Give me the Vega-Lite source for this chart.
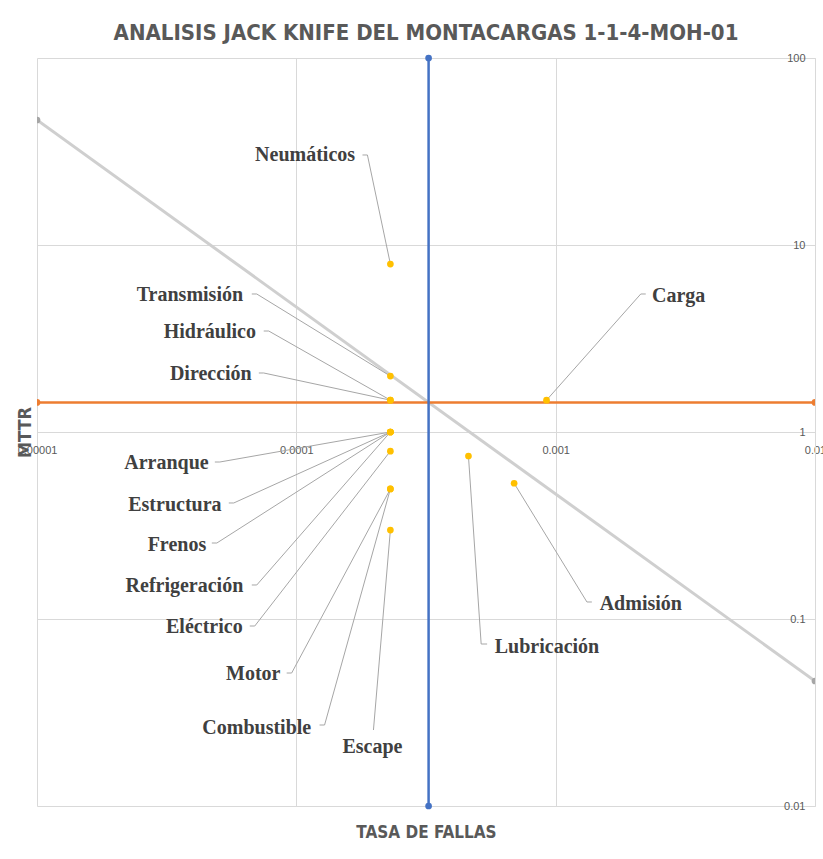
{
  "$schema": "https://vega.github.io/schema/vega-lite/v6.json",
  "width": 778,
  "height": 748,
  "autosize": "none",
  "padding": {"left": 37, "top": 58, "right": 8, "bottom": 53},
  "background": "white",
  "config": {"view": {"stroke": null}},
  "title": {
    "text": "ANALISIS JACK KNIFE DEL MONTACARGAS 1-1-4-MOH-01",
    "font": "DejaVu Sans Condensed, Liberation Sans",
    "fontSize": 22,
    "fontWeight": "bold",
    "color": "#595959",
    "anchor": "middle",
    "frame": "group",
    "offset": 7
  },
  "datasets": {
    "refs": [
      {"serie": "Límite", "tasa": 0.00001, "mttr": 46.6},
      {"serie": "Límite", "tasa": 0.01, "mttr": 0.0466},
      {"serie": "MTTR promedio", "tasa": 0.00001, "mttr": 1.44},
      {"serie": "MTTR promedio", "tasa": 0.01, "mttr": 1.44},
      {"serie": "Tasa promedio", "tasa": 0.0003236, "mttr": 100},
      {"serie": "Tasa promedio", "tasa": 0.0003236, "mttr": 0.01}
    ],
    "comp": [
      {"componente": "Neumáticos", "tasa": 0.0002305, "mttr": 7.91, "codo_tasa": 0.0001880, "codo_mttr": 30.29, "fin_tasa": 0.0001799, "etiq_tasa": 0.00010809, "etiq_mttr": 30.29},
      {"componente": "Transmisión", "tasa": 0.0002305, "mttr": 1.99, "codo_tasa": 0.00007037, "codo_mttr": 5.47, "fin_tasa": 0.00006733, "etiq_tasa": 0.00003887, "etiq_mttr": 5.403},
      {"componente": "Hidráulico", "tasa": 0.0002305, "mttr": 1.48, "codo_tasa": 0.00007826, "codo_mttr": 3.468, "fin_tasa": 0.00007486, "etiq_tasa": 0.00004638, "etiq_mttr": 3.425},
      {"componente": "Dirección", "tasa": 0.0002305, "mttr": 1.48, "codo_tasa": 0.00007486, "codo_mttr": 2.068, "fin_tasa": 0.00007168, "etiq_tasa": 0.0000468, "etiq_mttr": 2.043},
      {"componente": "Arranque", "tasa": 0.0002305, "mttr": 1.0, "codo_tasa": 0.0000507, "codo_mttr": 0.6911, "fin_tasa": 0.00004851, "etiq_tasa": 0.00003156, "etiq_mttr": 0.6826},
      {"componente": "Estructura", "tasa": 0.0002305, "mttr": 1.0, "codo_tasa": 0.00005738, "codo_mttr": 0.4173, "fin_tasa": 0.0000549, "etiq_tasa": 0.00003402, "etiq_mttr": 0.4071},
      {"componente": "Frenos", "tasa": 0.0002305, "mttr": 1.0, "codo_tasa": 0.00004938, "codo_mttr": 0.2549, "fin_tasa": 0.00004722, "etiq_tasa": 0.00003463, "etiq_mttr": 0.2487},
      {"componente": "Refrigeración", "tasa": 0.0002305, "mttr": 1.0, "codo_tasa": 0.00007037, "codo_mttr": 0.152, "fin_tasa": 0.00006733, "etiq_tasa": 0.00003702, "etiq_mttr": 0.1501},
      {"componente": "Eléctrico", "tasa": 0.0002305, "mttr": 0.79, "codo_tasa": 0.00006913, "codo_mttr": 0.09174, "fin_tasa": 0.00006614, "etiq_tasa": 0.00004418, "etiq_mttr": 0.09063},
      {"componente": "Motor", "tasa": 0.0002305, "mttr": 0.496, "codo_tasa": 0.00009592, "codo_mttr": 0.05142, "fin_tasa": 0.00009178, "etiq_tasa": 0.00006822, "etiq_mttr": 0.05079},
      {"componente": "Combustible", "tasa": 0.0002305, "mttr": 0.496, "codo_tasa": 0.0001285, "codo_mttr": 0.02711, "fin_tasa": 0.0001229, "etiq_tasa": 0.00007037, "etiq_mttr": 0.02613},
      {"componente": "Escape", "tasa": 0.0002305, "mttr": 0.299, "codo_tasa": 0.0001983, "codo_mttr": 0.02549, "fin_tasa": 0.0001983, "etiq_tasa": 0.0001966, "etiq_mttr": 0.02068},
      {"componente": "Lubricación", "tasa": 0.000461, "mttr": 0.744, "codo_tasa": 0.0005161, "codo_mttr": 0.07349, "fin_tasa": 0.0005442, "etiq_tasa": 0.0009258, "etiq_mttr": 0.07085},
      {"componente": "Admisión", "tasa": 0.0006915, "mttr": 0.532, "codo_tasa": 0.00132, "codo_mttr": 0.1233, "fin_tasa": 0.001379, "etiq_tasa": 0.002129, "etiq_mttr": 0.1203},
      {"componente": "Carga", "tasa": 0.000922, "mttr": 1.48, "codo_tasa": 0.002129, "codo_mttr": 5.47, "fin_tasa": 0.002225, "etiq_tasa": 0.002979, "etiq_mttr": 5.337}
    ]
  },
  "layer": [
    {
      "data": {"name": "refs"},
      "transform": [{"filter": "datum.serie === 'Límite'"}],
      "mark": {"type": "line", "color": "#cfcfcf", "strokeWidth": 3, "clip": true, "point": {"filled": true, "size": 45, "color": "#a6a6a6"}},
      "encoding": {
        "x": {
          "field": "tasa", "type": "quantitative",
          "scale": {"type": "log", "domain": [0.00001, 0.01], "nice": false},
          "axis": {
            "values": [0.00001, 0.0001, 0.001, 0.01],
            "labelExpr": "format(datum.value, '.5~f')",
            "orient": "bottom",
            "offset": -374,
            "domain": false,
            "ticks": false,
            "tickSize": 0,
            "labelPadding": 12,
            "labelFont": "Liberation Sans",
            "labelFontSize": 11,
            "labelColor": "#595959",
            "labelFlush": false,
            "labelOverlap": false,
            "grid": true,
            "gridColor": "#d9d9d9",
            "gridWidth": 1,
            "title": "TASA DE FALLAS",
            "titleFont": "DejaVu Sans Condensed, Liberation Sans",
            "titleFontSize": 17,
            "titleFontWeight": "bold",
            "titleColor": "#595959",
            "titleBaseline": "alphabetic",
            "titleY": 405
          }
        },
        "y": {
          "field": "mttr", "type": "quantitative",
          "scale": {"type": "log", "domain": [0.01, 100], "nice": false},
          "axis": {
            "values": [0.01, 0.1, 1, 10, 100],
            "labelExpr": "format(datum.value, '~g')",
            "orient": "right",
            "domain": true,
            "domainColor": "#d9d9d9",
            "ticks": false,
            "tickSize": 0,
            "labelPadding": -10,
            "labelAlign": "right",
            "labelBaseline": "middle",
            "labelFont": "Liberation Sans",
            "labelFontSize": 11,
            "labelColor": "#595959",
            "labelFlush": false,
            "labelOverlap": false,
            "grid": true,
            "gridColor": "#d9d9d9",
            "gridWidth": 1,
            "title": "MTTR",
            "titleFont": "DejaVu Sans Condensed, Liberation Sans",
            "titleFontSize": 18,
            "titleFontWeight": "bold",
            "titleColor": "#595959",
            "titleAngle": 270,
            "titleAlign": "center",
            "titleBaseline": "middle",
            "titleX": -790,
            "titleY": 374
          }
        }
      }
    },
    {
      "data": {"name": "refs"},
      "transform": [{"filter": "datum.serie === 'MTTR promedio'"}],
      "mark": {"type": "line", "color": "#ED7D31", "strokeWidth": 2.5, "clip": true, "point": {"filled": true, "size": 45, "color": "#ED7D31"}},
      "encoding": {
        "x": {"field": "tasa", "type": "quantitative"},
        "y": {"field": "mttr", "type": "quantitative"}
      }
    },
    {
      "data": {"name": "refs"},
      "transform": [{"filter": "datum.serie === 'Tasa promedio'"}],
      "mark": {"type": "line", "color": "#4472C4", "strokeWidth": 2.5, "clip": false, "point": {"filled": true, "size": 45, "color": "#4472C4"}},
      "encoding": {
        "x": {"field": "tasa", "type": "quantitative"},
        "y": {"field": "mttr", "type": "quantitative"}
      }
    },
    {
      "data": {"name": "comp"},
      "mark": {"type": "rule", "color": "#a6a6a6", "strokeWidth": 1},
      "encoding": {
        "x": {"field": "tasa", "type": "quantitative"},
        "y": {"field": "mttr", "type": "quantitative"},
        "x2": {"field": "codo_tasa"},
        "y2": {"field": "codo_mttr"}
      }
    },
    {
      "data": {"name": "comp"},
      "mark": {"type": "rule", "color": "#a6a6a6", "strokeWidth": 1},
      "encoding": {
        "x": {"field": "codo_tasa", "type": "quantitative"},
        "y": {"field": "codo_mttr", "type": "quantitative"},
        "x2": {"field": "fin_tasa"}
      }
    },
    {
      "data": {"name": "comp"},
      "mark": {"type": "point", "filled": true, "shape": "circle", "size": 45, "color": "#FFC000", "opacity": 1},
      "encoding": {
        "x": {"field": "tasa", "type": "quantitative"},
        "y": {"field": "mttr", "type": "quantitative"}
      }
    },
    {
      "data": {"name": "comp"},
      "mark": {"type": "text", "font": "Liberation Serif", "fontSize": 20, "fontWeight": "bold", "color": "#404040", "align": "center", "baseline": "middle"},
      "encoding": {
        "x": {"field": "etiq_tasa", "type": "quantitative"},
        "y": {"field": "etiq_mttr", "type": "quantitative"},
        "text": {"field": "componente"}
      }
    }
  ]
}
